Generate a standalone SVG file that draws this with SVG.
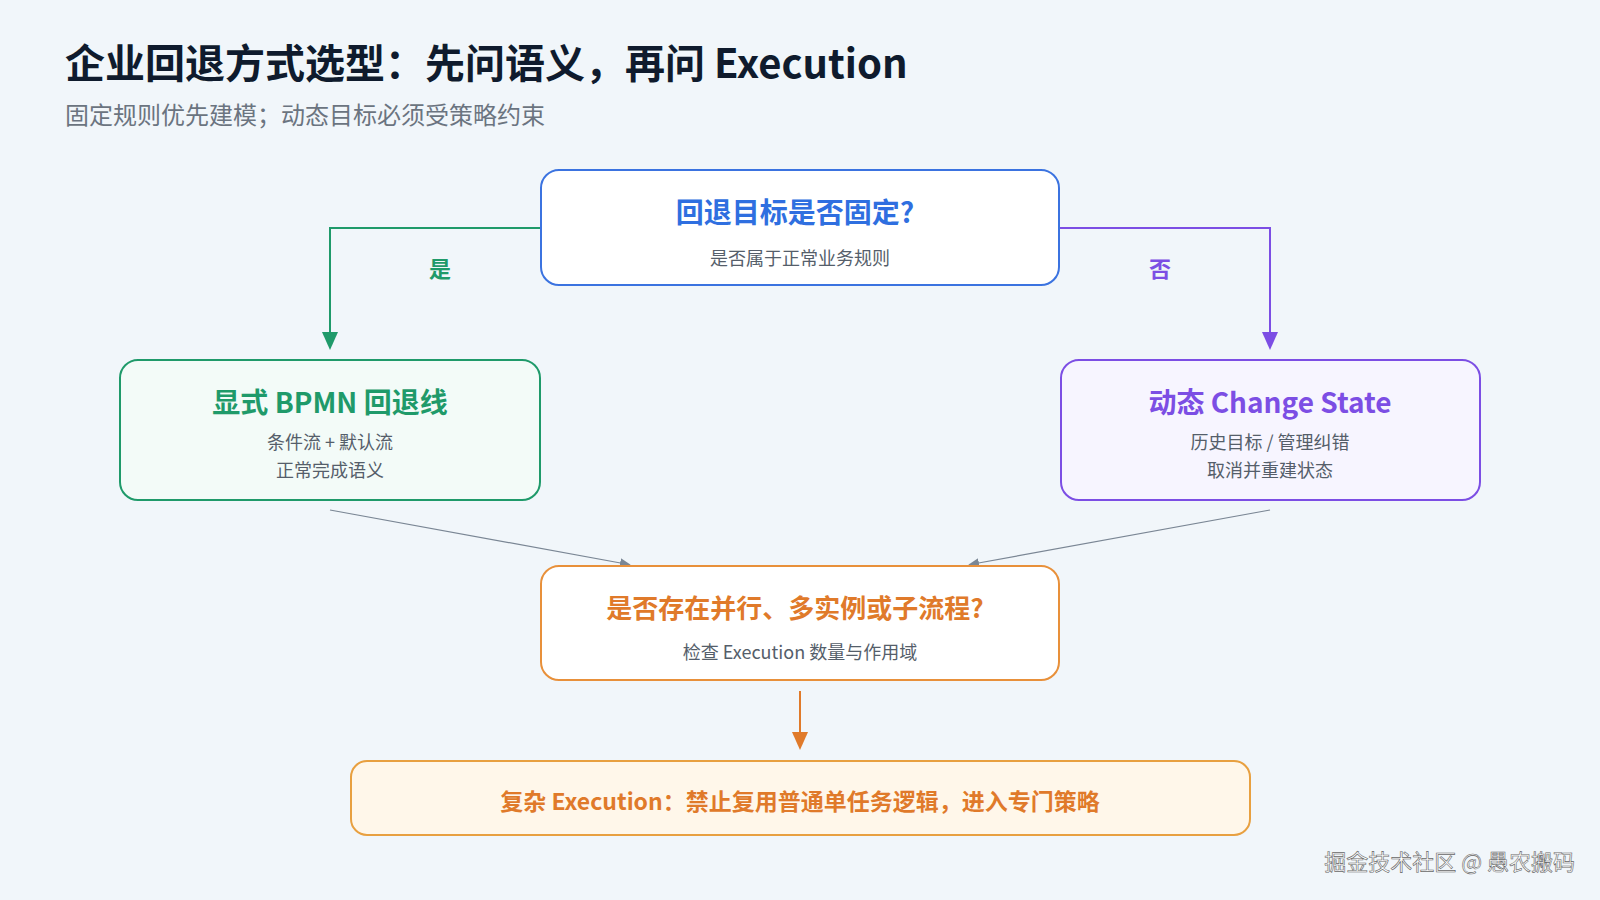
<svg xmlns="http://www.w3.org/2000/svg" width="1600" height="900" viewBox="0 0 1600 900">
<style>
text{font-family:"Noto Sans CJK SC","Noto Sans",sans-serif}
.t{font-weight:700;text-anchor:middle}
.s{font-size:18px;fill:#555e6a;text-anchor:middle}
.box{stroke-width:2}
</style>
<defs>
<marker id="ag" markerWidth="10" markerHeight="10" refX="5" refY="5" orient="auto"><path d="M0,1 L9,5 L0,9Z" fill="#1f9a6a"/></marker>
<marker id="ap" markerWidth="10" markerHeight="10" refX="5" refY="5" orient="auto"><path d="M0,1 L9,5 L0,9Z" fill="#7c4ee4"/></marker>
<marker id="ay" markerWidth="10" markerHeight="10" refX="5" refY="5" orient="auto"><path d="M0,1 L9,5 L0,9Z" fill="#7a8694"/></marker>
<marker id="ao" markerWidth="10" markerHeight="10" refX="5" refY="5" orient="auto"><path d="M0,1 L9,5 L0,9Z" fill="#e07a2a"/></marker>
</defs>
<rect width="1600" height="900" fill="#f1f6fa"/>
<text x="65" y="78" font-size="40" font-weight="700" fill="#0f1b2d">企业回退方式选型：先问语义，再问 Execution</text>
<text x="65" y="124" font-size="24" fill="#6b7480">固定规则优先建模；动态目标必须受策略约束</text>
<g id="connectors" fill="none" stroke-width="2">
<path d="M541,228 H330 V342" stroke="#1f9a6a" marker-end="url(#ag)"/>
<path d="M1059,228 H1270 V342" stroke="#7c4ee4" marker-end="url(#ap)"/>
<path d="M330,510 L626,564" stroke="#7a8694" stroke-width="1.2" marker-end="url(#ay)"/>
<path d="M1270,510 L973,564" stroke="#7a8694" stroke-width="1.2" marker-end="url(#ay)"/>
<path d="M800,691 V742" stroke="#e07a2a" marker-end="url(#ao)"/>
<text x="440" y="277" class="t" font-size="22" fill="#1f9a6a" stroke="none">是</text>
<text x="1160" y="277" class="t" font-size="22" fill="#7c4ee4" stroke="none">否</text>
</g>
<g id="q1">
<rect x="541" y="170" width="518" height="115" rx="18" fill="#fff" stroke="#3b73e0" class="box"/>
<text x="795" y="223" class="t" font-size="28" fill="#2f6fe0">回退目标是否固定?</text>
<text x="800" y="265" class="s">是否属于正常业务规则</text>
</g>
<g id="bpmn">
<rect x="120" y="360" width="420" height="140" rx="18" fill="#f3fbf8" stroke="#1f9a6a" class="box"/>
<text x="330" y="413" class="t" font-size="28" fill="#1f9a6a">显式 BPMN 回退线</text>
<text x="330" y="449" class="s">条件流 + 默认流</text>
<text x="330" y="477" class="s">正常完成语义</text>
</g>
<g id="change">
<rect x="1061" y="360" width="419" height="140" rx="18" fill="#f7f5ff" stroke="#7c4ee4" class="box"/>
<text x="1270" y="413" class="t" font-size="28" fill="#7c4ee4">动态 Change State</text>
<text x="1270" y="449" class="s">历史目标 / 管理纠错</text>
<text x="1270" y="477" class="s">取消并重建状态</text>
</g>
<g id="q2">
<rect x="541" y="566" width="518" height="114" rx="18" fill="#fff" stroke="#e8903a" class="box"/>
<text x="795" y="618" class="t" font-size="26" fill="#e07a2a">是否存在并行、多实例或子流程?</text>
<text x="800" y="659" class="s">检查 Execution 数量与作用域</text>
</g>
<g id="complex">
<rect x="351" y="761" width="899" height="74" rx="16" fill="#fff7ea" stroke="#e8a040" class="box"/>
<text x="800" y="810" class="t" font-size="23" fill="#e07a2a">复杂 Execution：禁止复用普通单任务逻辑，进入专门策略</text>
</g>
<text x="1575" y="870" font-size="22" fill="#ffffff" stroke="#666" stroke-width="0.6" text-anchor="end">掘金技术社区 @ 愚农搬码</text>
</svg>
